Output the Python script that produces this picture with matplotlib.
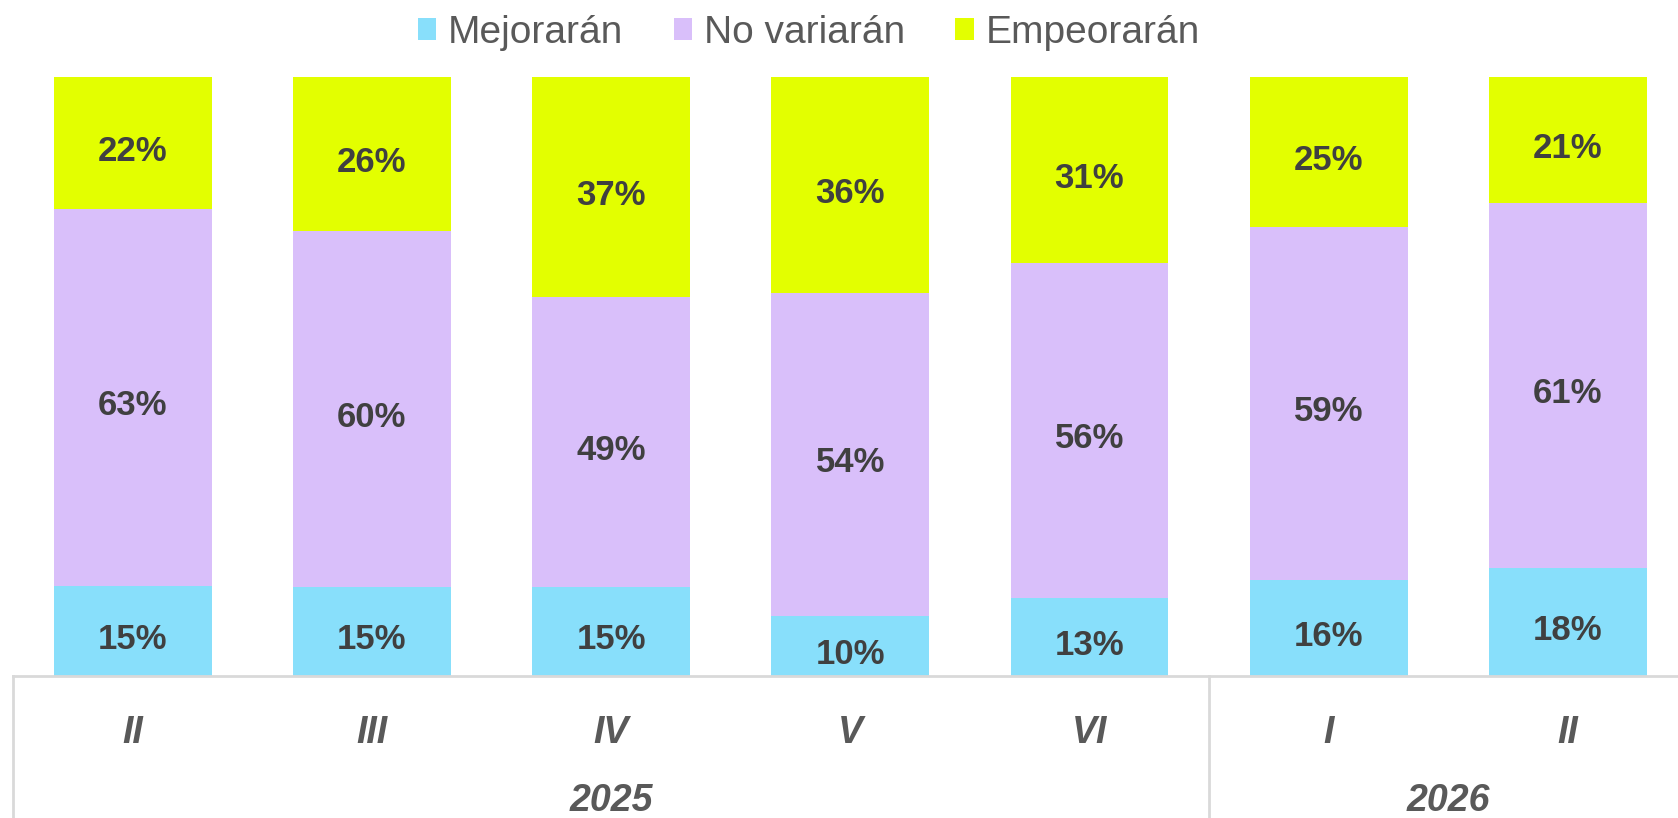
import numpy as np
import matplotlib.pyplot as plt
from matplotlib.patches import Patch
from matplotlib.transforms import blended_transform_factory

# data (percent, as labelled)
periods = ['II', 'III', 'IV', 'V', 'VI', 'I', 'II']
years = ['2025', '2026']
year_groups = [(0, 4), (5, 6)]  # first and last bar index of each year

mejoraran = [15, 15, 15, 10, 13, 16, 18]
no_variaran = [63, 60, 49, 54, 56, 59, 61]
empeoraran = [22, 26, 37, 36, 31, 25, 21]

series_names = ['Mejorarán', 'No variarán', 'Empeorarán']
colors = ['#88DFFB', '#D9BFFA', '#E3FF00']

LABEL_COLOR = '#404040'
AXIS_TEXT = '#595959'
LINE_COLOR = '#D9D9D9'

plt.rcParams['font.family'] = ['Liberation Sans', 'DejaVu Sans']


def main():
    series = np.array([mejoraran, no_variaran, empeoraran], dtype=float)
    # 100% stacked: scale each column to its total
    shares = series / series.sum(axis=0) * 100

    fig = plt.figure(figsize=(16.78, 8.18), dpi=100)
    ax = fig.add_axes([13.1 / 1678, 0.1736, 7 * 239.2 / 1678, 0.732])

    x = np.arange(len(periods))
    bottom = np.zeros(len(periods))
    for i, (vals, raw) in enumerate(zip(shares, series)):
        ax.bar(x, vals, bottom=bottom, width=0.66, color=colors[i],
               edgecolor='none')
        for xi, b, v, r in zip(x, bottom, vals, raw):
            # labels sit a little below the segment middle, as in the source
            ax.annotate(f'{int(r)}%', (xi, b + v / 2), xytext=(0, -6),
                        textcoords='offset points', ha='center', va='center',
                        fontsize=25, fontweight='bold', color=LABEL_COLOR)
        bottom += vals

    ax.set_xlim(-0.5, len(periods) - 0.5)
    ax.set_ylim(0, 100)
    ax.set_xticks([])
    ax.set_yticks([])
    for side in ['left', 'right', 'top']:
        ax.spines[side].set_visible(False)
    ax.spines['bottom'].set_color(LINE_COLOR)
    ax.spines['bottom'].set_linewidth(2)

    # category table under the bars
    trans = blended_transform_factory(ax.transData, fig.transFigure)
    y_axis = 0.1736
    for xpos in [-0.5, year_groups[0][1] + 0.5]:
        ax.plot([xpos, xpos], [0, y_axis], transform=trans, color=LINE_COLOR,
                lw=2, clip_on=False)

    for xi, p in zip(x, periods):
        ax.text(xi, 1 - 733 / 818, p, transform=trans, ha='center',
                va='center', fontsize=27, fontweight='bold',
                fontstyle='italic', color=AXIS_TEXT)

    for yr, (a, b) in zip(years, year_groups):
        ax.text((a + b) / 2, 1 - 801 / 818, yr, transform=trans,
                ha='center', va='center', fontsize=27, fontweight='bold',
                fontstyle='italic', color=AXIS_TEXT)

    handles = [Patch(facecolor=c, edgecolor='none') for c in colors]
    leg = fig.legend(handles, series_names, loc='center',
                     bbox_to_anchor=(0.482, 1 - 33 / 818), ncol=3,
                     frameon=False, fontsize=28, handlelength=0.47,
                     handleheight=0.5, handletextpad=0.3, columnspacing=1.3,
                     borderaxespad=0, borderpad=0)
    for t in leg.get_texts():
        t.set_color(AXIS_TEXT)

    fig.savefig('out.png', dpi=100)


if __name__ == '__main__':
    main()
